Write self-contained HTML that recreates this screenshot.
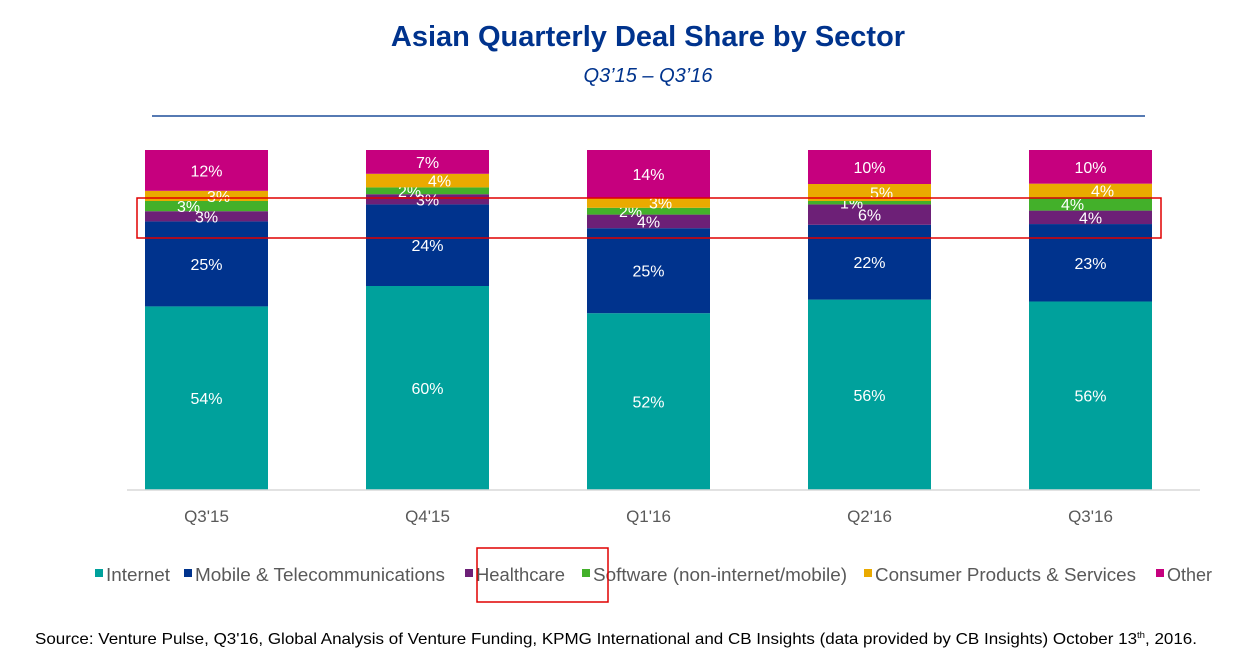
<!DOCTYPE html>
<html><head><meta charset="utf-8"><style>
body{margin:0;background:#fff;font-family:"Liberation Sans",Arial,sans-serif;}
svg{display:block}
</style></head><body>
<svg id="chart" width="1237" height="653" xmlns="http://www.w3.org/2000/svg">
<text x="648" y="46" text-anchor="middle" font-size="29" font-weight="bold" fill="#00338D">Asian Quarterly Deal Share by Sector</text>
<text x="648" y="82" text-anchor="middle" font-size="20" font-style="italic" fill="#00338D">Q3’15 – Q3’16</text>
<line x1="152" y1="116" x2="1145" y2="116" stroke="#1F4E9A" stroke-width="1.5"/>
<g id="bars"></g>
<line x1="127" y1="490" x2="1200" y2="490" stroke="#D9D9D9" stroke-width="1.5"/>
<g id="xticks"></g>
<g id="legend"></g>
<rect x="137" y="198" width="1024" height="40" fill="none" stroke="#E00000" stroke-width="1.5"/>
<rect x="477" y="548" width="131" height="54" fill="none" stroke="#E00000" stroke-width="1.5"/>
<text x="35" y="644" font-size="16" fill="#000" textLength="1162" lengthAdjust="spacingAndGlyphs">Source: Venture Pulse, Q3'16, Global Analysis of Venture Funding, KPMG International and CB Insights (data provided by CB Insights) October 13<tspan font-size="9" dy="-6">th</tspan><tspan dy="6">, 2016.</tspan></text>
</svg>
<script>
const categories = ["Q3'15","Q4'15","Q1'16","Q2'16","Q3'16"];
const seriesNames = ["Internet","Mobile & Telecommunications","Healthcare","Software (non-internet/mobile)","Consumer Products & Services","Other"];
const internet = [54,60,52,56,56];
const mobile = [25,24,25,22,23];
const healthcare = [3,3,4,6,4];
const software = [3,2,2,1,4];
const consumer = [3,4,3,5,4];
const other = [12,7,14,10,10];
const colors = ["#00A19C","#00338D","#6D2077","#43B02A","#EAAA00","#C6007E"];
const series = [internet,mobile,healthcare,software,consumer,other];
const labelDx = [0,0,0,-18,12,0];
const legendX = [95,184,465,582,864,1156];
const legendW = [64,250,89,254,261,45];

const NS="http://www.w3.org/2000/svg";
const plotBottom=490, plotH=340, firstX=145, step=221, barW=123;
function yScale(v){return plotBottom - v/100*plotH;}
function xScale(i){return firstX + i*step;}
function mk(tag,attrs,parent){const e=document.createElementNS(NS,tag);for(const k in attrs)e.setAttribute(k,attrs[k]);parent.appendChild(e);return e;}
const bars=document.getElementById('bars');
categories.forEach((c,i)=>{
  let cum=0;
  let total=0; series.forEach(s=>total+=s[i]);
  const k=100/total;
  const x=xScale(i);
  series.forEach((s,j)=>{
    const v=s[i];
    const y0=yScale(cum*k), y1=yScale((cum+v)*k);
    const r=mk('rect',{x:x,y:y1,width:barW,height:y0-y1,fill:colors[j]},bars);
    
    
    const t=mk('text',{x:x+barW/2+labelDx[j],y:(y0+y1)/2+6,'text-anchor':'middle','font-size':16,fill:'#fff'},bars);
    t.textContent=v+'%';
    
    
    cum+=v;
  });
  const tl=mk('text',{x:x+barW/2,y:522,'text-anchor':'middle','font-size':17,fill:'#595959'},document.getElementById('xticks'));
  tl.textContent=c;
  
  
});
const lg=document.getElementById('legend');
seriesNames.forEach((n,j)=>{
  const r=mk('rect',{x:legendX[j],y:569,width:8,height:8,fill:colors[j]},lg);
  
  
  const t=mk('text',{x:legendX[j]+11,y:581,'font-size':18.5,fill:'#595959',textLength:legendW[j],lengthAdjust:'spacingAndGlyphs'},lg);
  t.textContent=n;
  
  
});
</script>
</body></html>
